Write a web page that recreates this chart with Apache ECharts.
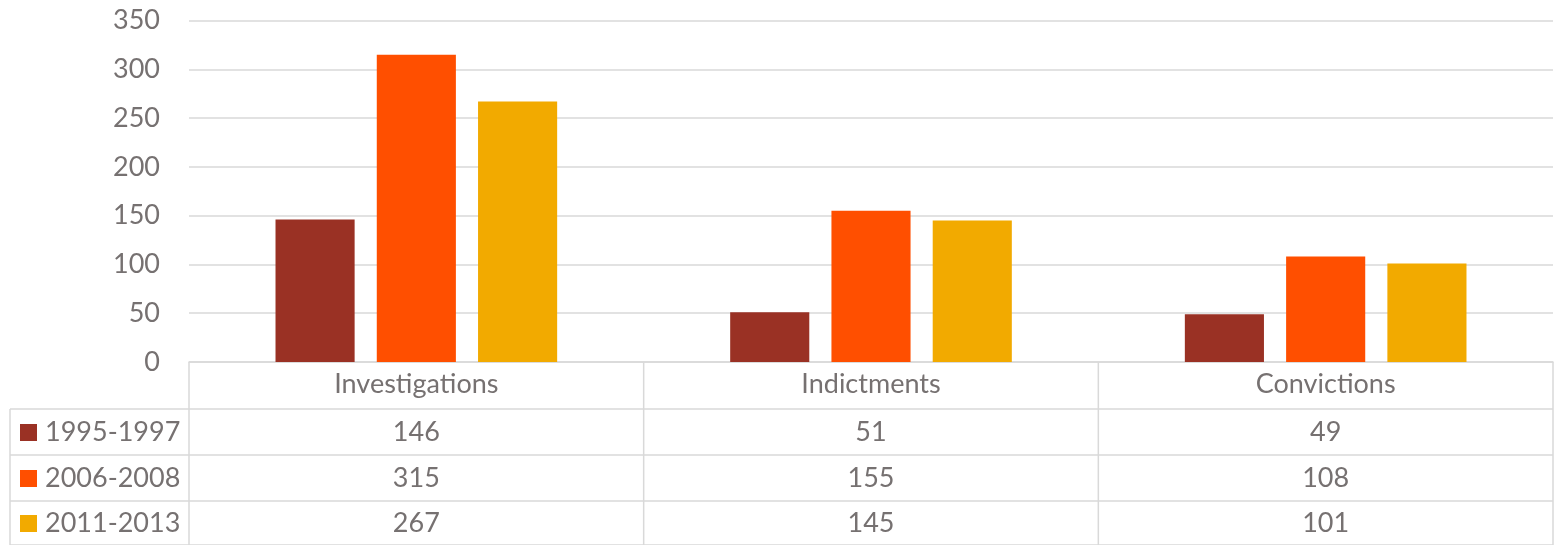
<!DOCTYPE html>
<html><head><meta charset="utf-8">
<script src="https://cdn.jsdelivr.net/npm/echarts@6/dist/echarts.min.js"></script>
<style>html,body{margin:0;padding:0;background:#fff}#c{width:1555px;height:545px}</style>
</head><body><div id="c"></div>
<script>
const categories = ['Investigations', 'Indictments', 'Convictions'];
const seriesNames = ['1995-1997', '2006-2008', '2011-2013'];
const s1995 = [146, 51, 49];
const s2006 = [315, 155, 108];
const s2011 = [267, 145, 101];
const colors = ['#9a3124', '#ff4f00', '#f2aa00'];
const yMax = 350, yStep = 50;

const seriesData = [s1995, s2006, s2011];
const textColor = '#767171';
const lineColor = '#d9d9d9';
const font = 'Lato, "Open Sans", sans-serif';
const FS = 27;
const G = {left: 189, right: 2, top: 20.5, bottom: 183};
const W = 1555, H = 545;

const chart = echarts.init(document.getElementById('c'), null, {renderer: 'canvas'});
chart.setOption({
  animation: false,
  grid: {left: G.left, right: G.right, top: G.top, bottom: G.bottom, containLabel: false},
  xAxis: {
    type: 'category', data: categories,
    axisLine: {show: true, lineStyle: {color: lineColor, width: 1.5}},
    axisTick: {show: false},
    axisLabel: {color: textColor, fontSize: FS, fontFamily: font, margin: 9}
  },
  yAxis: {
    type: 'value', min: 0, max: yMax, interval: yStep,
    axisLine: {show: false}, axisTick: {show: false},
    axisLabel: {color: textColor, fontSize: FS, fontFamily: font, margin: 29},
    splitLine: {lineStyle: {color: lineColor, width: 1.5}}
  },
  series: seriesNames.map((n, i) => ({
    name: n, type: 'bar', data: seriesData[i],
    itemStyle: {color: colors[i]},
    barWidth: '17.4%', barGap: '28%', barCategoryGap: '38%'
  }))
});

// data table
const axisY = H - G.bottom;
const rowBounds = [axisY, 409, 455, 501, H];
const plotRight = W - G.right;
const centers = categories.map((c, i) => chart.convertToPixel({xAxisIndex: 0}, i));
const step = centers.length > 1 ? centers[1] - centers[0] : (plotRight - G.left);
const dividers = [G.left].concat(centers.map(c => c + step / 2));
const els = [];
const ls = {stroke: lineColor, lineWidth: 1.5};
for (let r = 1; r < rowBounds.length; r++) {
  els.push({type: 'line', shape: {x1: 10, y1: rowBounds[r], x2: plotRight, y2: rowBounds[r]}, style: ls, silent: true});
}
dividers.forEach(x => {
  els.push({type: 'line', shape: {x1: x, y1: axisY, x2: x, y2: H}, style: ls, silent: true});
});
els.push({type: 'line', shape: {x1: 10, y1: rowBounds[1], x2: 10, y2: H}, style: ls, silent: true});
seriesNames.forEach((n, i) => {
  const yc = (rowBounds[i + 1] + rowBounds[i + 2]) / 2;
  els.push({type: 'rect', shape: {x: 20, y: yc - 8, width: 17, height: 17}, style: {fill: colors[i]}, silent: true});
  els.push({type: 'text', x: 45, y: yc, style: {text: n, fill: textColor, fontSize: FS, fontFamily: font, align: 'left', verticalAlign: 'middle'}, silent: true});
  seriesData[i].forEach((v, j) => {
    els.push({type: 'text', x: centers[j], y: yc, style: {text: String(v), fill: textColor, fontSize: FS, fontFamily: font, align: 'center', verticalAlign: 'middle'}, silent: true});
  });
});
chart.setOption({graphic: {elements: els}});
</script></body></html>
